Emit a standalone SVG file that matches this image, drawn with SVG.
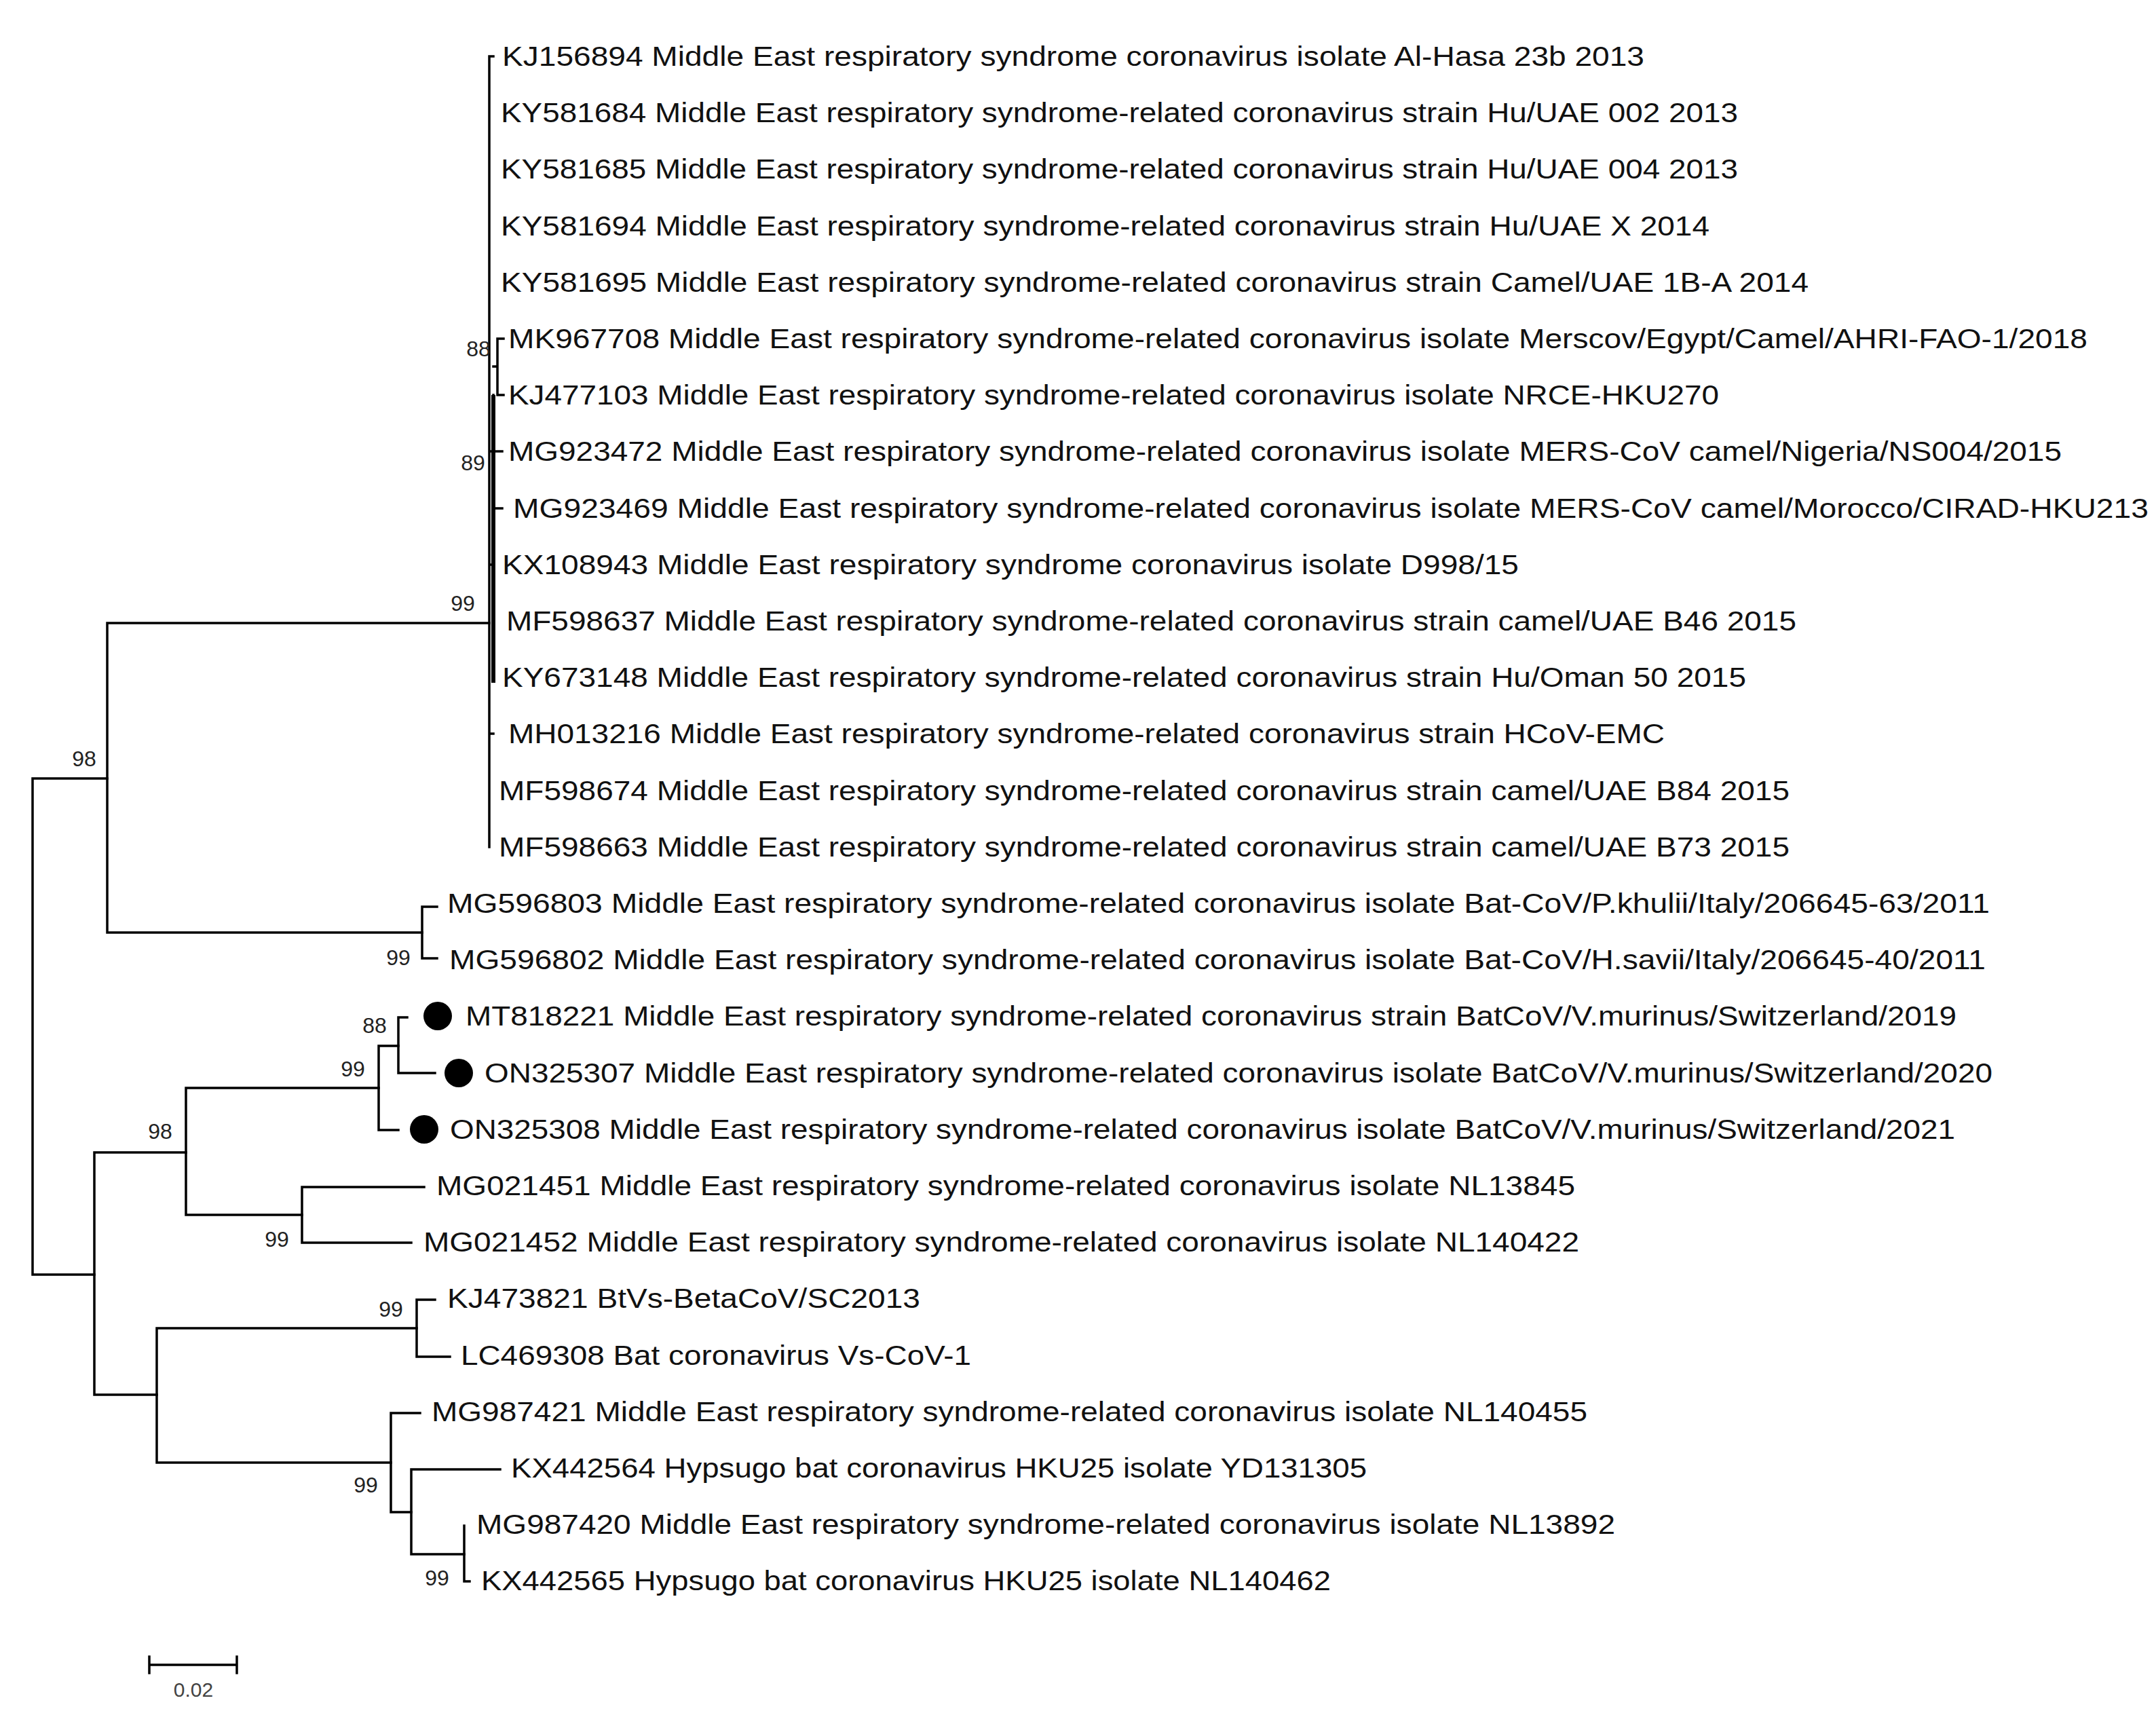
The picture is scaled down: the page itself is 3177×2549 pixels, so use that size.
<svg xmlns="http://www.w3.org/2000/svg" width="3177" height="2549" viewBox="0 0 3177 2549">
<style>
.t{font-family:"Liberation Sans",Arial,sans-serif;font-size:40px;fill:#111}
.b{font-family:"Liberation Sans",Arial,sans-serif;font-size:32px;fill:#222;text-anchor:middle;dominant-baseline:central}
.e{fill:none;stroke:#000;stroke-width:3.5;stroke-linecap:square}
</style>
<rect width="3177" height="2549" fill="#fff"/>
<g id="connectors" class="e">
<path d="M48 1147V1878M48 1147H158M48 1878H139"/>
<path d="M158 918V1374M158 918H721M158 1374H622"/>
<path d="M721 83V1248M721 83H727M721 832H727M721 1081H727M721 665H727"/>
<path d="M727 540H733M733 499V582M733 499H742M733 582H742"/>
<path d="M727 582V749M727 665H740M727 749H740"/>
<path d="M727 585V1003" stroke-width="6"/>
<path d="M622 1336V1412M622 1336H644M622 1412H644"/>
<path d="M139 1698V2055M139 1698H274M139 2055H231"/>
<path d="M274 1603V1790M274 1603H558M274 1790H445"/>
<path d="M558 1541V1665M558 1541H587M558 1665H587"/>
<path d="M587 1499V1581M587 1499H600M587 1581H641"/>
<path d="M445 1749V1831M445 1749H625M445 1831H606"/>
<path d="M231 1957V2155M231 1957H614M231 2155H576"/>
<path d="M614 1915V1999M614 1915H641M614 1999H663"/>
<path d="M576 2082V2228M576 2082H619M576 2228H606"/>
<path d="M606 2165V2290M606 2165H737M606 2290H684"/>
<path d="M684 2248V2330M684 2330H692"/>
<path d="M220 2453H349M220 2441V2465M349 2441V2465"/>
</g>
<g id="dots" fill="#000">
<ellipse cx="645" cy="1497" rx="21" ry="21"/>
<ellipse cx="676" cy="1581" rx="21" ry="21"/>
<ellipse cx="625" cy="1664" rx="21" ry="21"/>
</g>
<g id="bootstrap">
<text class="b" x="124" y="1118">98</text>
<text class="b" x="682" y="889">99</text>
<text class="b" x="705" y="514">88</text>
<text class="b" x="697" y="682">89</text>
<text class="b" x="587" y="1411">99</text>
<text class="b" x="552" y="1511">88</text>
<text class="b" x="520" y="1575">99</text>
<text class="b" x="236" y="1667">98</text>
<text class="b" x="408" y="1826">99</text>
<text class="b" x="576" y="1929">99</text>
<text class="b" x="539" y="2188">99</text>
<text class="b" x="644" y="2325">99</text>
<text x="285" y="2500" style="font-family:'Liberation Sans',Arial,sans-serif;font-size:30px;fill:#444;text-anchor:middle">0.02</text>
</g>
<g id="labels" class="t">
<text id="n0" x="740" y="97" textLength="1683" lengthAdjust="spacingAndGlyphs">KJ156894 Middle East respiratory syndrome coronavirus isolate Al-Hasa 23b 2013</text>
<text id="n1" x="738" y="180" textLength="1823" lengthAdjust="spacingAndGlyphs">KY581684 Middle East respiratory syndrome-related coronavirus strain Hu/UAE 002 2013</text>
<text id="n2" x="738" y="263" textLength="1823" lengthAdjust="spacingAndGlyphs">KY581685 Middle East respiratory syndrome-related coronavirus strain Hu/UAE 004 2013</text>
<text id="n3" x="738" y="347" textLength="1781" lengthAdjust="spacingAndGlyphs">KY581694 Middle East respiratory syndrome-related coronavirus strain Hu/UAE X 2014</text>
<text id="n4" x="738" y="430" textLength="1927" lengthAdjust="spacingAndGlyphs">KY581695 Middle East respiratory syndrome-related coronavirus strain Camel/UAE 1B-A 2014</text>
<text id="n5" x="749" y="513" textLength="2327" lengthAdjust="spacingAndGlyphs">MK967708 Middle East respiratory syndrome-related coronavirus isolate Merscov/Egypt/Camel/AHRI-FAO-1/2018</text>
<text id="n6" x="749" y="596" textLength="1784" lengthAdjust="spacingAndGlyphs">KJ477103 Middle East respiratory syndrome-related coronavirus isolate NRCE-HKU270</text>
<text id="n7" x="749" y="679" textLength="2289" lengthAdjust="spacingAndGlyphs">MG923472 Middle East respiratory syndrome-related coronavirus isolate MERS-CoV camel/Nigeria/NS004/2015</text>
<text id="n8" x="756" y="763" textLength="2410" lengthAdjust="spacingAndGlyphs">MG923469 Middle East respiratory syndrome-related coronavirus isolate MERS-CoV camel/Morocco/CIRAD-HKU213</text>
<text id="n9" x="740" y="846" textLength="1498" lengthAdjust="spacingAndGlyphs">KX108943 Middle East respiratory syndrome coronavirus isolate D998/15</text>
<text id="n10" x="746" y="929" textLength="1901" lengthAdjust="spacingAndGlyphs">MF598637 Middle East respiratory syndrome-related coronavirus strain camel/UAE B46 2015</text>
<text id="n11" x="740" y="1012" textLength="1833" lengthAdjust="spacingAndGlyphs">KY673148 Middle East respiratory syndrome-related coronavirus strain Hu/Oman 50 2015</text>
<text id="n12" x="749" y="1095" textLength="1704" lengthAdjust="spacingAndGlyphs">MH013216 Middle East respiratory syndrome-related coronavirus strain HCoV-EMC</text>
<text id="n13" x="735" y="1179" textLength="1902" lengthAdjust="spacingAndGlyphs">MF598674 Middle East respiratory syndrome-related coronavirus strain camel/UAE B84 2015</text>
<text id="n14" x="735" y="1262" textLength="1902" lengthAdjust="spacingAndGlyphs">MF598663 Middle East respiratory syndrome-related coronavirus strain camel/UAE B73 2015</text>
<text id="n15" x="659" y="1345" textLength="2273" lengthAdjust="spacingAndGlyphs">MG596803 Middle East respiratory syndrome-related coronavirus isolate Bat-CoV/P.khulii/Italy/206645-63/2011</text>
<text id="n16" x="662" y="1428" textLength="2264" lengthAdjust="spacingAndGlyphs">MG596802 Middle East respiratory syndrome-related coronavirus isolate Bat-CoV/H.savii/Italy/206645-40/2011</text>
<text id="n17" x="686" y="1511" textLength="2197" lengthAdjust="spacingAndGlyphs">MT818221 Middle East respiratory syndrome-related coronavirus strain BatCoV/V.murinus/Switzerland/2019</text>
<text id="n18" x="714" y="1595" textLength="2222" lengthAdjust="spacingAndGlyphs">ON325307 Middle East respiratory syndrome-related coronavirus isolate BatCoV/V.murinus/Switzerland/2020</text>
<text id="n19" x="663" y="1678" textLength="2218" lengthAdjust="spacingAndGlyphs">ON325308 Middle East respiratory syndrome-related coronavirus isolate BatCoV/V.murinus/Switzerland/2021</text>
<text id="n20" x="643" y="1761" textLength="1678" lengthAdjust="spacingAndGlyphs">MG021451 Middle East respiratory syndrome-related coronavirus isolate NL13845</text>
<text id="n21" x="624" y="1844" textLength="1703" lengthAdjust="spacingAndGlyphs">MG021452 Middle East respiratory syndrome-related coronavirus isolate NL140422</text>
<text id="n22" x="659" y="1927" textLength="697" lengthAdjust="spacingAndGlyphs">KJ473821 BtVs-BetaCoV/SC2013</text>
<text id="n23" x="679" y="2011" textLength="752" lengthAdjust="spacingAndGlyphs">LC469308 Bat coronavirus Vs-CoV-1</text>
<text id="n24" x="636" y="2094" textLength="1703" lengthAdjust="spacingAndGlyphs">MG987421 Middle East respiratory syndrome-related coronavirus isolate NL140455</text>
<text id="n25" x="753" y="2177" textLength="1261" lengthAdjust="spacingAndGlyphs">KX442564 Hypsugo bat coronavirus HKU25 isolate YD131305</text>
<text id="n26" x="702" y="2260" textLength="1678" lengthAdjust="spacingAndGlyphs">MG987420 Middle East respiratory syndrome-related coronavirus isolate NL13892</text>
<text id="n27" x="709" y="2343" textLength="1252" lengthAdjust="spacingAndGlyphs">KX442565 Hypsugo bat coronavirus HKU25 isolate NL140462</text>
</g>
</svg>
